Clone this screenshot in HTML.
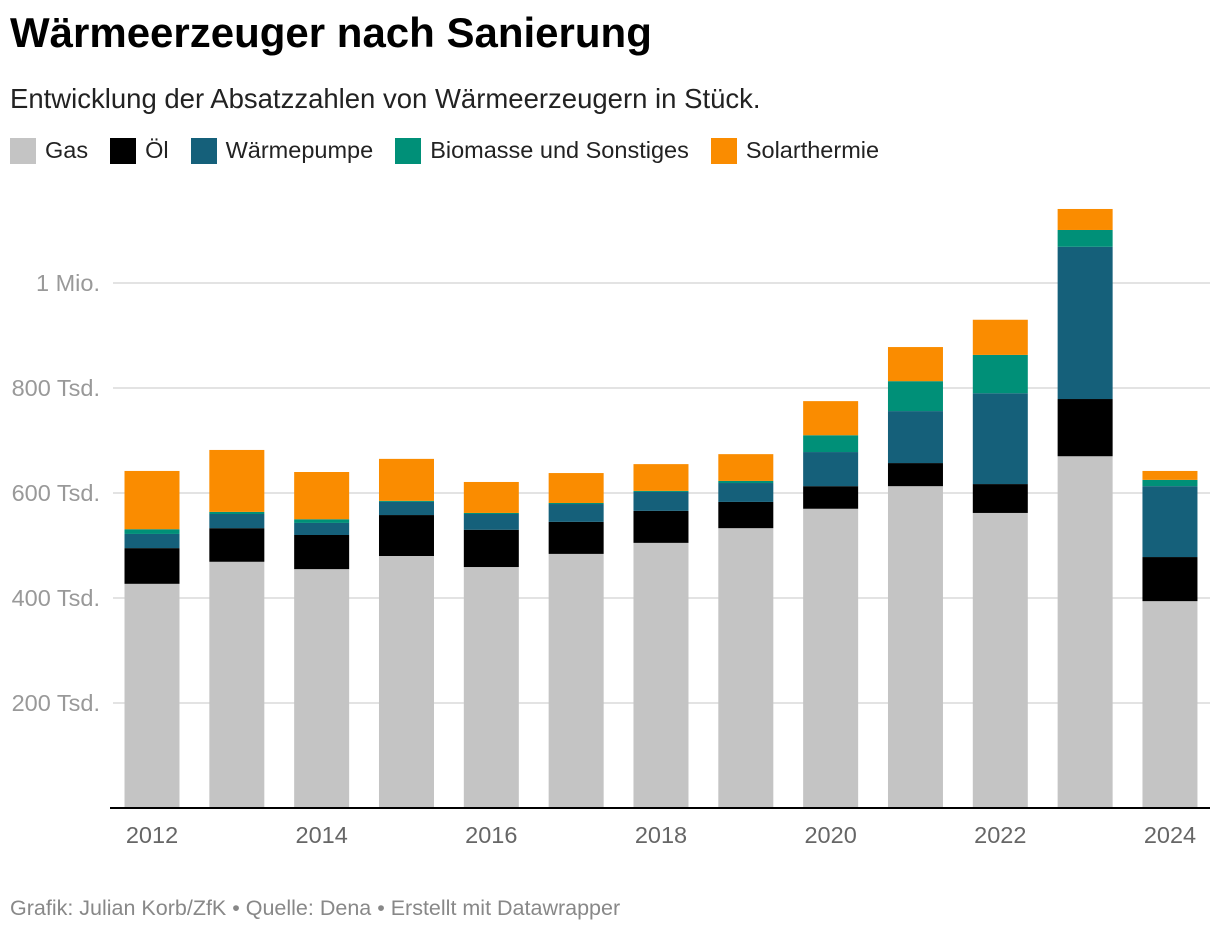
<!DOCTYPE html>
<html><head><meta charset="utf-8"><style>
body{margin:0;background:#fff;font-family:"Liberation Sans",sans-serif;width:1220px;height:932px;overflow:hidden;position:relative}
h1{position:absolute;left:10px;top:9px;margin:0;font-size:42px;font-weight:bold;color:#000}
.sub{position:absolute;left:10px;top:83px;font-size:27.5px;color:#222}
.legend{position:absolute;left:10px;top:137px;display:flex;font-size:23.5px;color:#222}
.li{display:flex;align-items:center;margin-right:22px}
.sw{width:26px;height:26px;margin-right:9px}
.foot{position:absolute;left:10px;top:896px;font-size:21.5px;color:#888}
svg{position:absolute;left:0;top:0}
</style></head><body>
<h1>Wärmeerzeuger nach Sanierung</h1>
<div class="sub">Entwicklung der Absatzzahlen von Wärmeerzeugern in Stück.</div>
<div class="legend">
<div class="li"><div class="sw" style="background:#c4c4c4"></div>Gas</div>
<div class="li"><div class="sw" style="background:#000"></div>Öl</div>
<div class="li"><div class="sw" style="background:#15607a"></div>Wärmepumpe</div>
<div class="li"><div class="sw" style="background:#009078"></div>Biomasse und Sonstiges</div>
<div class="li"><div class="sw" style="background:#fa8c00"></div>Solarthermie</div>
</div>
<svg id="chart" width="1220" height="932"></svg>
<div class="foot">Grafik: Julian Korb/ZfK • Quelle: Dena • Erstellt mit Datawrapper</div>
<script>
const years=[2012,2013,2014,2015,2016,2017,2018,2019,2020,2021,2022,2023,2024];
const gas=[427,469,455,480,459,484,505,533,570,613,562,670,394];
const oel=[68,64,65,78,71,61,61,50,43,44,55,109,84];
const wp=[27,27,23,25,30,34,36,36,65,99,173,290,135];
const bio=[9,4,7,2,2,2,2,4,32,57,73,32,12];
const solar=[111,118,90,80,59,57,51,51,65,65,67,40,17];
const yTicks=[200,400,600,800,1000];
const yLabels=["200 Tsd.","400 Tsd.","600 Tsd.","800 Tsd.","1 Mio."];
const xLabelYears=[2012,2014,2016,2018,2020,2022,2024];
const series=[[gas,"#c4c4c4","gas"],[oel,"#000000","oel"],[wp,"#15607a","waermepumpe"],[bio,"#009078","biomasse"],[solar,"#fa8c00","solarthermie"]];
const NS="http://www.w3.org/2000/svg",svg=document.getElementById('chart');
const y=v=>808-v*0.525;
const x=yr=>152+(yr-2012)*84.83;
const bw=55;
function mk(t,a){const e=document.createElementNS(NS,t);for(const k in a)e.setAttribute(k,a[k]);svg.appendChild(e);return e;}
yTicks.forEach((t,i)=>{
 const g=mk('line',{x1:113,x2:1210,y1:y(t),y2:y(t),stroke:'#e3e3e3','stroke-width':2});
 
 
 const l=mk('text',{x:100,y:y(t)+8,'text-anchor':'end','font-size':23.5,fill:'#999','font-family':'Liberation Sans'});
 l.textContent=yLabels[i];
 
 
});
years.forEach((yr,i)=>{
 let cum=0;
 series.forEach(s=>{
  const v=s[0][i];
  const r=mk('rect',{x:x(yr)-bw/2,y:y(cum+v),width:bw,height:v*0.525,fill:s[1]});
  
  
  cum+=v;
 });
});
const ax=mk('line',{x1:110,x2:1210,y1:808,y2:808,stroke:'#000','stroke-width':2});


xLabelYears.forEach(yr=>{
 const t=mk('text',{x:x(yr),y:843,'text-anchor':'middle','font-size':23.5,fill:'#666','font-family':'Liberation Sans'});
 t.textContent=yr;
 
 
});
</script>
</body></html>
